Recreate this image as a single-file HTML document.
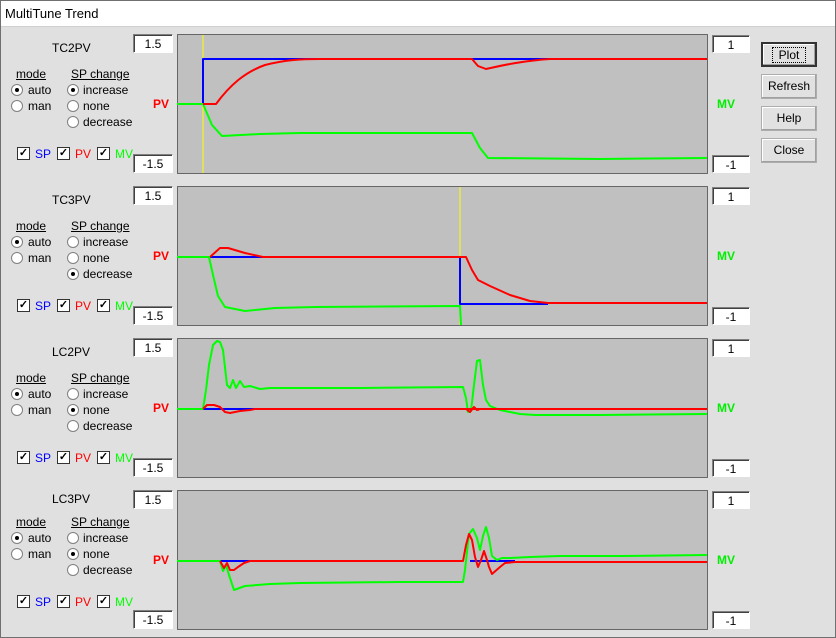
<!DOCTYPE html>
<html><head><meta charset="utf-8"><style>
*{margin:0;padding:0;box-sizing:border-box}
body{width:836px;height:638px;background:#e0e0e0;font-family:"Liberation Sans",sans-serif;font-size:12px;position:relative;overflow:hidden;color:#000}
.t{position:absolute;white-space:nowrap;line-height:14px}
.box{position:absolute;background:#fff;border-top:1px solid #808080;border-left:1px solid #808080;border-right:1px solid #fff;border-bottom:1px solid #fff;box-shadow:inset 1px 1px 0 #404040;text-align:center;font-size:12px;line-height:18px}
.btn{position:absolute;left:761px;width:56px;height:25px;background:#e1e1e1;border:1px solid #adadad;text-align:center;line-height:22px;box-shadow:inset -1px -1px 0 #a0a0a0,inset 1px 1px 0 #fff}
.rad{position:absolute;width:12px;height:12px;border-radius:50%;background:#fff;border:1px solid #808080}
.rad.on::after{content:"";position:absolute;left:3px;top:3px;width:4px;height:4px;border-radius:50%;background:#000}
.chk{position:absolute;width:13px;height:13px;background:#fff;border:1px solid #333;font-size:11px;line-height:11px;text-align:center;font-weight:bold}
.panel{position:absolute;left:0;width:836px;height:152px}
u{text-decoration:underline}
</style></head><body>
<div style="position:absolute;left:0;top:0;width:836px;height:27px;background:#fff;border-bottom:1px solid #d0d0d0"></div>
<div class="t" style="left:5px;top:7px;font-size:13px">MultiTune Trend</div>
<div style="position:absolute;left:0;top:0;width:836px;height:638px;border:1px solid #707070;pointer-events:none"></div>

<div class="btn" style="top:42px;border:2px solid #333"><span style="border:1px dotted #000;padding:0 6px">Plot</span></div>
<div class="btn" style="top:74px">Refresh</div>
<div class="btn" style="top:106px">Help</div>
<div class="btn" style="top:138px">Close</div>

<div class="panel" style="top:0">
<div class="t" style="left:52px;top:41px">TC2PV</div>
<div class="t" style="left:16px;top:67px"><u>mode</u></div>
<div class="t" style="left:71px;top:67px"><u>SP change</u></div>
<div class="rad on" style="left:11px;top:84px"></div><div class="t" style="left:28px;top:83px">auto</div>
<div class="rad" style="left:11px;top:100px"></div><div class="t" style="left:28px;top:99px">man</div>
<div class="rad on" style="left:67px;top:84px"></div><div class="t" style="left:83px;top:83px">increase</div>
<div class="rad" style="left:67px;top:100px"></div><div class="t" style="left:83px;top:99px">none</div>
<div class="rad" style="left:67px;top:116px"></div><div class="t" style="left:83px;top:115px">decrease</div>
<div class="chk" style="left:17px;top:147px">✓</div><div class="t" style="left:35px;top:147px;color:#00f">SP</div>
<div class="chk" style="left:57px;top:147px">✓</div><div class="t" style="left:75px;top:147px;color:#f00">PV</div>
<div class="chk" style="left:97px;top:147px">✓</div><div class="t" style="left:115px;top:147px;color:#0f0">MV</div>
<div class="box" style="left:133px;top:34px;width:40px;height:19px">1.5</div>
<div class="box" style="left:133px;top:154px;width:40px;height:19px">-1.5</div>
<div class="box" style="left:712px;top:35px;width:38px;height:18px">1</div>
<div class="box" style="left:712px;top:155px;width:38px;height:18px">-1</div>
<div class="t" style="left:153px;top:97px;color:#f00;font-weight:bold">PV</div>
<div class="t" style="left:717px;top:97px;color:#0e0;font-weight:bold">MV</div>
</div>

<div class="panel" style="top:152px">
<div class="t" style="left:52px;top:41px">TC3PV</div>
<div class="t" style="left:16px;top:67px"><u>mode</u></div>
<div class="t" style="left:71px;top:67px"><u>SP change</u></div>
<div class="rad on" style="left:11px;top:84px"></div><div class="t" style="left:28px;top:83px">auto</div>
<div class="rad" style="left:11px;top:100px"></div><div class="t" style="left:28px;top:99px">man</div>
<div class="rad" style="left:67px;top:84px"></div><div class="t" style="left:83px;top:83px">increase</div>
<div class="rad" style="left:67px;top:100px"></div><div class="t" style="left:83px;top:99px">none</div>
<div class="rad on" style="left:67px;top:116px"></div><div class="t" style="left:83px;top:115px">decrease</div>
<div class="chk" style="left:17px;top:147px">✓</div><div class="t" style="left:35px;top:147px;color:#00f">SP</div>
<div class="chk" style="left:57px;top:147px">✓</div><div class="t" style="left:75px;top:147px;color:#f00">PV</div>
<div class="chk" style="left:97px;top:147px">✓</div><div class="t" style="left:115px;top:147px;color:#0f0">MV</div>
<div class="box" style="left:133px;top:34px;width:40px;height:19px">1.5</div>
<div class="box" style="left:133px;top:154px;width:40px;height:19px">-1.5</div>
<div class="box" style="left:712px;top:35px;width:38px;height:18px">1</div>
<div class="box" style="left:712px;top:155px;width:38px;height:18px">-1</div>
<div class="t" style="left:153px;top:97px;color:#f00;font-weight:bold">PV</div>
<div class="t" style="left:717px;top:97px;color:#0e0;font-weight:bold">MV</div>
</div>

<div class="panel" style="top:304px">
<div class="t" style="left:52px;top:41px">LC2PV</div>
<div class="t" style="left:16px;top:67px"><u>mode</u></div>
<div class="t" style="left:71px;top:67px"><u>SP change</u></div>
<div class="rad on" style="left:11px;top:84px"></div><div class="t" style="left:28px;top:83px">auto</div>
<div class="rad" style="left:11px;top:100px"></div><div class="t" style="left:28px;top:99px">man</div>
<div class="rad" style="left:67px;top:84px"></div><div class="t" style="left:83px;top:83px">increase</div>
<div class="rad on" style="left:67px;top:100px"></div><div class="t" style="left:83px;top:99px">none</div>
<div class="rad" style="left:67px;top:116px"></div><div class="t" style="left:83px;top:115px">decrease</div>
<div class="chk" style="left:17px;top:147px">✓</div><div class="t" style="left:35px;top:147px;color:#00f">SP</div>
<div class="chk" style="left:57px;top:147px">✓</div><div class="t" style="left:75px;top:147px;color:#f00">PV</div>
<div class="chk" style="left:97px;top:147px">✓</div><div class="t" style="left:115px;top:147px;color:#0f0">MV</div>
<div class="box" style="left:133px;top:34px;width:40px;height:19px">1.5</div>
<div class="box" style="left:133px;top:154px;width:40px;height:19px">-1.5</div>
<div class="box" style="left:712px;top:35px;width:38px;height:18px">1</div>
<div class="box" style="left:712px;top:155px;width:38px;height:18px">-1</div>
<div class="t" style="left:153px;top:97px;color:#f00;font-weight:bold">PV</div>
<div class="t" style="left:717px;top:97px;color:#0e0;font-weight:bold">MV</div>
</div>

<div class="panel" style="top:456px">
<div class="t" style="left:52px;top:36px">LC3PV</div>
<div class="t" style="left:16px;top:59px"><u>mode</u></div>
<div class="t" style="left:71px;top:59px"><u>SP change</u></div>
<div class="rad on" style="left:11px;top:76px"></div><div class="t" style="left:28px;top:75px">auto</div>
<div class="rad" style="left:11px;top:92px"></div><div class="t" style="left:28px;top:91px">man</div>
<div class="rad" style="left:67px;top:76px"></div><div class="t" style="left:83px;top:75px">increase</div>
<div class="rad on" style="left:67px;top:92px"></div><div class="t" style="left:83px;top:91px">none</div>
<div class="rad" style="left:67px;top:108px"></div><div class="t" style="left:83px;top:107px">decrease</div>
<div class="chk" style="left:17px;top:139px">✓</div><div class="t" style="left:35px;top:139px;color:#00f">SP</div>
<div class="chk" style="left:57px;top:139px">✓</div><div class="t" style="left:75px;top:139px;color:#f00">PV</div>
<div class="chk" style="left:97px;top:139px">✓</div><div class="t" style="left:115px;top:139px;color:#0f0">MV</div>
<div class="box" style="left:133px;top:34px;width:40px;height:19px">1.5</div>
<div class="box" style="left:133px;top:154px;width:40px;height:19px">-1.5</div>
<div class="box" style="left:712px;top:35px;width:38px;height:18px">1</div>
<div class="box" style="left:712px;top:155px;width:38px;height:18px">-1</div>
<div class="t" style="left:153px;top:97px;color:#f00;font-weight:bold">PV</div>
<div class="t" style="left:717px;top:97px;color:#0e0;font-weight:bold">MV</div>
</div>

<svg width="836" height="638" style="position:absolute;left:0;top:0" fill="none" stroke-width="2" stroke-linejoin="round">
<g fill="#c0c0c0" stroke="#666" stroke-width="1">
<rect x="177.5" y="34.5" width="530" height="139"/>
<rect x="177.5" y="186.5" width="530" height="139"/>
<rect x="177.5" y="338.5" width="530" height="139"/>
<rect x="177.5" y="490.5" width="530" height="139"/>
</g>
<line x1="203" y1="35" x2="203" y2="173" stroke="#ff0" stroke-width="1"/>
<path d="M177,104H203V59H335M472,59H572" stroke="#00f"/>
<path d="M177,104H203L212,125L222,136L260,134L300,133L472,133L480,148L488,158L600,159L707,158" stroke="#0f0"/>
<path d="M203,104H216C230,85 245,72 265,65C285,60 300,59 320,59H472L478,66L486,69C500,66 520,61 550,59H707" stroke="#f00"/>
<line x1="460" y1="187" x2="460" y2="325" stroke="#ff0" stroke-width="1"/>
<path d="M210,257H460V304H548" stroke="#00f"/>
<path d="M177,257H209L213,275L218,296L225,307L245,311L275,308L315,307L460,306L461,325" stroke="#0f0"/>
<path d="M210,257L220,248L228,248L245,253L263,257H466L472,270L478,280L490,286L510,295L530,301L548,303H707" stroke="#f00"/>
<path d="M203,409H255M472,409H510" stroke="#00f"/>
<path d="M177,409H203L206,390L209,365L213,345L217,341L220,342L223,350L227,385L230,388L233,380L236,388L240,381L244,387L250,386L260,389L270,388L290,388L360,388L463,387L466,398L468,412L471,411L474,385L477,361L480,360L483,385L486,400L490,406L500,410L510,412L520,414L535,415L600,415L707,414" stroke="#0f0"/>
<path d="M203,409L207,405L214,405L220,407L225,412L230,413L240,411L250,410L255,409H707M466,409L470,412L474,407L477,410L480,409" stroke="#f00"/>
<path d="M220,561H252M470,561H515" stroke="#00f"/>
<path d="M177,561H220L223,571L226,565L229,575L234,590L245,586L270,584L300,583L400,582L463,582L465,570L469,534L473,529L477,538L480,550L483,536L486,527L489,538L492,556L497,560L502,558L510,558L530,557L560,556L620,556L707,555" stroke="#0f0"/>
<path d="M220,561L224,568L227,563L230,570L234,570L238,567L244,563L250,561H463L466,545L469,534L472,540L475,557L478,567L481,560L484,551L487,560L489,567L492,574L500,567L505,563L515,562H707" stroke="#f00"/>
</svg>
</body></html>
